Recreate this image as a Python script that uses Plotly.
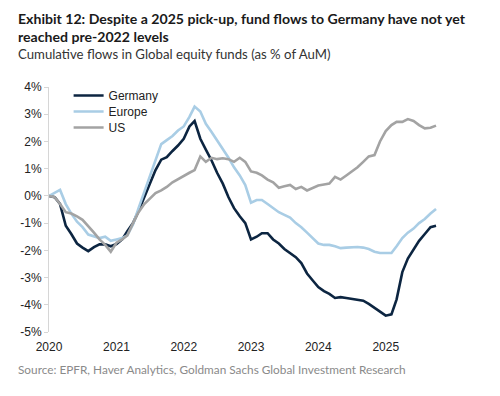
import pandas as pd
import plotly.graph_objects as go

dates = pd.date_range("2020-01-01", "2025-10-01", freq="MS")

germany = [0, -0.05, -0.3, -1.1, -1.4, -1.75, -1.9, -2.03, -1.88, -1.78, -1.78, -1.85,
           -1.77, -1.6, -1.3, -1.0, -0.55, -0.05, 0.45, 0.95, 1.33, 1.42, 1.65, 1.85,
           2.1, 2.55, 2.75, 2.1, 1.7, 1.3, 0.85, 0.45, -0.05, -0.45, -0.75, -1.0,
           -1.6, -1.5, -1.37, -1.37, -1.6, -1.75, -1.95, -2.1, -2.25, -2.47, -2.85, -3.1,
           -3.35, -3.5, -3.6, -3.75, -3.72, -3.75, -3.78, -3.82, -3.85, -3.97, -4.1, -4.25,
           -4.4, -4.35, -3.8, -2.8, -2.3, -1.95, -1.65, -1.4, -1.15, -1.1]

europe = [0, 0.1, 0.22, -0.3, -0.65, -0.95, -1.15, -1.42, -1.5, -1.55, -1.5, -1.65,
          -1.6, -1.55, -1.45, -1.05, -0.45, 0.15, 0.75, 1.35, 1.9, 2.05, 2.2, 2.4,
          2.55, 2.9, 3.28, 3.1, 2.65, 2.35, 2.05, 1.75, 1.4, 1.05, 0.75, 0.4,
          -0.25, -0.15, -0.15, -0.3, -0.45, -0.6, -0.7, -0.8, -1.0, -1.15, -1.35, -1.55,
          -1.75, -1.8, -1.8, -1.85, -1.92, -1.9, -1.88, -1.88, -1.9, -1.95, -2.05, -2.1,
          -2.1, -2.1, -1.85, -1.55, -1.35, -1.2, -1.0, -0.85, -0.65, -0.48]

us = [0, -0.05, -0.3, -0.6, -0.65, -0.75, -0.88, -1.1, -1.35, -1.6, -1.8, -2.05,
      -1.72, -1.6, -1.45, -1.0, -0.6, -0.3, -0.1, 0.1, 0.2, 0.33, 0.5, 0.62,
      0.75, 0.85, 0.95, 1.45, 1.25, 1.4, 1.35, 1.38, 1.35, 1.25, 1.4, 1.25,
      0.9, 0.85, 0.75, 0.6, 0.5, 0.3, 0.35, 0.4, 0.25, 0.33, 0.2, 0.3,
      0.38, 0.42, 0.45, 0.7, 0.6, 0.75, 0.9, 1.05, 1.25, 1.45, 1.5, 2.0,
      2.38, 2.6, 2.72, 2.72, 2.82, 2.75, 2.6, 2.48, 2.5, 2.58]

y_ticks = [4, 3, 2, 1, 0, -1, -2, -3, -4, -5]
y_tick_labels = ["4%", "3%", "2%", "1%", "0%", "-1%", "-2%", "-3%", "-4%", "-5%"]
x_ticks = ["2020-01-01", "2021-01-01", "2022-01-01", "2023-01-01", "2024-01-01", "2025-01-01"]
x_tick_labels = ["2020", "2021", "2022", "2023", "2024", "2025"]
x_range = ["2020-01-01", "2026-01-01"]
y_range = [-5, 4]

series = [("Germany", germany, "#0c2541", "legend"),
          ("Europe", europe, "#a9cde5", "legend2"),
          ("US", us, "#a3a3a3", "legend3")]

fig = go.Figure()
for name, vals, col, lg in series:
    fig.add_trace(go.Scatter(x=dates, y=vals, name=name, mode="lines", legend=lg,
                             line=dict(color=col, width=2.6)))

axis_font = dict(family="Liberation Sans, Arial, sans-serif", size=12, color="#222222")
text_font = "Lato, 'Open Sans', sans-serif"

# page body adds an 8px offset; the plot area is placed so it lands at screen x 41..453, y 87..332
def px_x(p):
    return (p - 41) / 412.0

def px_y(p):
    return (332 - p) / 245.0

legend_style = dict(xanchor="left", yanchor="top",
                    font=dict(family="Liberation Sans, Arial, sans-serif", size=12, color="#222222"),
                    bgcolor="rgba(0,0,0,0)", itemwidth=30)

fig.update_layout(
    width=500, height=396,
    margin=dict(l=33, r=55, t=79, b=72),
    paper_bgcolor="white", plot_bgcolor="white",
    showlegend=True,
    legend=dict(x=px_x(61), y=px_y(97 - 16), **legend_style),
    legend2=dict(x=px_x(61), y=px_y(113 - 16), **legend_style),
    legend3=dict(x=px_x(61), y=px_y(129 - 16), **legend_style),
    xaxis=dict(range=x_range, tickvals=x_ticks, ticktext=x_tick_labels,
               showgrid=False, zeroline=False, showline=False,
               ticks="outside", ticklen=4, tickcolor="rgba(0,0,0,0)",
               tickfont=axis_font),
    xaxis2=dict(range=x_range, overlaying="x", anchor="free", position=5/9, side="bottom",
                tickvals=x_ticks, showticklabels=False, showgrid=False, zeroline=False,
                showline=True, linecolor="#d6d6d6", linewidth=1,
                ticks="outside", ticklen=3, tickcolor="#d6d6d6"),
    yaxis=dict(range=y_range, tickvals=y_ticks, ticktext=y_tick_labels,
               showgrid=False, zeroline=False, showline=True, linecolor="#d6d6d6",
               ticks="outside", ticklen=4, tickcolor="#d6d6d6", tickfont=axis_font),
)

annos = [
    ("<b>Exhibit 12: Despite a 2025 pick-up, fund flows to Germany have not yet</b>", 8.5, "top", 14.1, "#1a1a1a"),
    ("<b>reached pre-2022 levels</b>", 36.5, "middle", 14.1, "#1a1a1a"),
    ("Cumulative flows in Global equity funds (as % of AuM)", 54.5, "middle", 13.2, "#333333"),
    ("Source: EPFR, Haver Analytics, Goldman Sachs Global Investment Research", 369, "middle", 11.8, "#8a8a8a"),
]
for txt, yc, anchor, size, col in annos:
    fig.add_annotation(text=txt, xref="paper", yref="paper", x=px_x(8.5), y=px_y(yc),
                       xanchor="left", yanchor=anchor, showarrow=False, borderpad=0,
                       font=dict(family=text_font, size=size, color=col))

fig.write_html("out.html")
